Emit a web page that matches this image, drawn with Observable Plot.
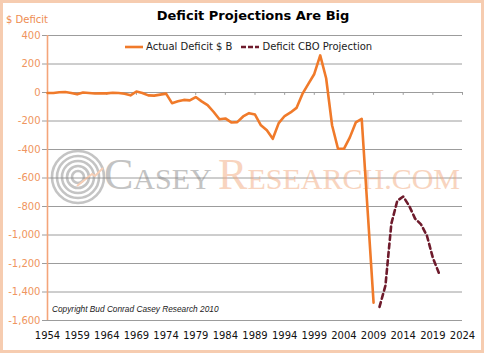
<!DOCTYPE html>
<html><head><meta charset="utf-8">
<script src="https://cdn.jsdelivr.net/npm/d3@7"></script>
<script src="https://cdn.jsdelivr.net/npm/@observablehq/plot@0.6"></script>
<style>
html,body{margin:0;padding:0;background:#fff;}
#wrap{position:relative;width:484px;height:353px;overflow:hidden;font-family:"DejaVu Sans",Verdana,sans-serif;}
#frame{position:absolute;left:0;top:0;width:484px;height:353px;box-sizing:border-box;border:3px solid #f6ccb0;pointer-events:none;}
#chart{position:absolute;left:0;top:0;}
.ov{position:absolute;line-height:1;white-space:nowrap;}
</style></head>
<body>
<div id="wrap">
  <div id="chart"></div>
  <div class="ov" id="title" style="left:253px;top:9px;transform:translateX(-50%);font-weight:bold;font-size:13px;color:#000;">Deficit Projections Are Big</div>
  <div class="ov" id="ylab" style="left:6px;top:15px;font-size:10px;color:#ee8c50;">$ Deficit</div>
  <div class="ov" id="legend" style="left:124px;top:42px;font-size:10px;color:#222;"></div>
  <div class="ov" id="copy" style="left:52px;top:305px;font-size:8.3px;font-style:italic;font-family:'Liberation Sans',Arial,sans-serif;color:#222;">Copyright Bud Conrad  Casey Research 2010</div>
  <div id="frame"></div>
</div>
<script>
// ---- data ----
const seriesNames = ["Actual Deficit $ B", "Deficit CBO Projection"];
const seriesColors = ["#f07a2a", "#6e1b2c"];
const actualYears = [1954,1955,1956,1957,1958,1959,1960,1961,1962,1963,1964,1965,1966,1967,1968,1969,1970,1971,1972,1973,1974,1975,1976,1977,1978,1979,1980,1981,1982,1983,1984,1985,1986,1987,1988,1989,1990,1991,1992,1993,1994,1995,1996,1997,1998,1999,2000,2001,2002,2003,2004,2005,2006,2007,2008,2009];
const actualValues = [-3,-3,2,3,-3,-13,0,-3,-7,-5,-6,-2,-4,-9,-20,7,-3,-20,-22,-15,-8,-75,-62,-52,-55,-32,-62,-88,-135,-188,-182,-210,-208,-168,-145,-155,-230,-265,-325,-215,-165,-140,-108,-10,60,130,260,100,-230,-395,-395,-315,-210,-185,-830,-1475];
const projYears = [2010,2011,2012,2013,2014,2015,2016,2017,2018,2019,2020];
const projValues = [-1505,-1355,-920,-760,-730,-795,-885,-925,-1005,-1160,-1265];
const xTicks = [1954,1959,1964,1969,1974,1979,1984,1989,1994,1999,2004,2009,2014,2019,2024];
const yTicks = [400,200,0,-200,-400,-600,-800,-1000,-1200,-1400,-1600];

const actual = actualYears.map((y,i)=>({year:y, value:actualValues[i]}));
const proj = projYears.map((y,i)=>({year:y, value:projValues[i]}));

const plot = Plot.plot({
  width:484, height:353,
  marginLeft:47, marginRight:22, marginTop:35, marginBottom:33,
  x:{domain:[1954,2024]},
  y:{domain:[-1600,400]},
  style:{fontFamily:"DejaVu Sans, Verdana, sans-serif", fontSize:"10px", background:"transparent", overflow:"visible"},
  marks:[
    Plot.gridY(yTicks,{stroke:"#9c9c9c", strokeOpacity:1, strokeWidth:1}),
    Plot.axisY(yTicks,{tickSize:5, tickPadding:2, stroke:"#9c9c9c", fill:"#ef9560", label:null, tickFormat:d=>d.toLocaleString("en-US"), fontSize:10}),
    Plot.axisX(xTicks,{tickSize:0, tickPadding:11, fill:"#111", label:null, tickFormat:d=>String(d), fontSize:10}),
    Plot.ruleX(xTicks,{x:d=>d, y1:0, y2:-20, stroke:"#9c9c9c"}),
    Plot.ruleX([1954],{stroke:"#f4a57a", strokeWidth:1.6}),
    Plot.line(actual,{x:"year", y:"value", stroke:seriesColors[0], strokeWidth:2.6, strokeLinejoin:"round"}),
    Plot.line(proj,{x:"year", y:"value", stroke:seriesColors[1], strokeWidth:2.6, strokeDasharray:"5,3.5"})
  ]
});
document.getElementById("chart").appendChild(plot);

// watermark (decoration) inserted beneath the data lines
const firstLine = plot.querySelector('g[aria-label="line"]');
const wm = d3.create("svg:g").attr("opacity",0.5).attr("pointer-events","none");
[6,11,16,21,26].forEach(r=>{
  wm.append("circle").attr("cx",78).attr("cy",177).attr("r",r).attr("fill","none").attr("stroke","#8a8a8a").attr("stroke-width",2.6);
});
wm.append("path").attr("d","M77,186 L92,174 L95,176 L103,168").attr("stroke","#f0a070").attr("stroke-width",2).attr("fill","none");
const t = wm.append("text").attr("x",104).attr("y",189).attr("text-anchor","start").attr("font-family","Liberation Serif, DejaVu Serif, serif");
t.append("tspan").attr("font-size",44).attr("fill","#888").text("C");
t.append("tspan").attr("font-size",30).attr("fill","#888").text("ASEY ");
t.append("tspan").attr("font-size",44).attr("fill","#f2aa80").text("R");
t.append("tspan").attr("font-size",30).attr("fill","#f2aa80").text("ESEARCH.COM");
plot.insertBefore(wm.node(), firstLine);

// legend
const leg = d3.select("#legend");
seriesNames.forEach((name,i)=>{
  const item = leg.append("span").style("display","inline-flex").style("align-items","center").style("margin-right", i===0?"8px":"0");
  const s = item.append("svg").attr("width",20).attr("height",10).style("margin-right","2px");
  s.append("line").attr("x1",1).attr("x2",19).attr("y1",5).attr("y2",5).attr("stroke",seriesColors[i]).attr("stroke-width",2.6)
   .attr("stroke-dasharray", i===1?"5,2":null);
  item.append("span").text(name);
});
</script>
</body></html>
